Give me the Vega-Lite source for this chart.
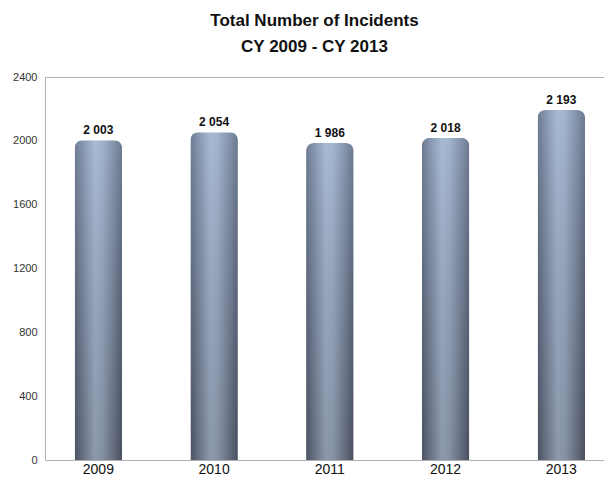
{
  "$schema": "https://vega.github.io/schema/vega-lite/v6.json",
  "autosize": "none",
  "width": 559,
  "height": 383,
  "padding": {"left": 45, "top": 77, "right": 0, "bottom": 21},
  "background": "white",
  "config": {
    "view": {"stroke": null},
    "font": "Liberation Sans",
    "locale": {"number": {"decimal": ".", "thousands": " ", "grouping": [3], "currency": ["", ""]}}
  },
  "title": {
    "text": ["Total Number of Incidents", "CY 2009 - CY 2013"],
    "font": "Liberation Sans",
    "fontSize": 17,
    "fontWeight": "bold",
    "color": "#111",
    "anchor": "middle",
    "dx": -10,
    "offset": 15,
    "lineHeight": 26
  },
  "data": {"values": [
    {"year": "2009", "incidents": 2003},
    {"year": "2010", "incidents": 2054},
    {"year": "2011", "incidents": 1986},
    {"year": "2012", "incidents": 2018},
    {"year": "2013", "incidents": 2193}
  ]},
  "encoding": {
    "x": {
      "field": "year", "type": "nominal", "title": null,
      "scale": {"paddingInner": 0.59, "paddingOuter": 0.21, "align": 0.61},
      "axis": {"labelAngle": 0, "labelFontSize": 14, "labelColor": "#111", "domainColor": "#b0b0b0", "ticks": false, "labelPadding": 2}
    },
    "y": {
      "field": "incidents", "type": "quantitative", "title": null,
      "scale": {"domain": [0, 2400], "nice": false},
      "axis": {
        "values": [0, 400, 800, 1200, 1600, 2000, 2400],
        "format": "d",
        "labelFontSize": 11,
        "labelColor": "#333",
        "domainColor": "#b0b0b0",
        "ticks": false,
        "labelPadding": 8,
        "grid": true,
        "gridColor": "#b0b0b0",
        "gridOpacity": {"condition": {"test": "datum.value === 2400", "value": 1}, "value": 0}
      }
    }
  },
  "layer": [
    {
      "mark": {
        "type": "bar",
        "cornerRadiusTopLeft": 8,
        "cornerRadiusTopRight": 8,
        "color": {
          "gradient": "linear", "x1": 0, "x2": 1, "y1": 0, "y2": 0,
          "stops": [
            {"offset": 0, "color": "#4f5767"},
            {"offset": 0.2, "color": "#7a869a"},
            {"offset": 0.42, "color": "#a7b5ca"},
            {"offset": 0.58, "color": "#9dabc0"},
            {"offset": 0.85, "color": "#6b7587"},
            {"offset": 1, "color": "#4c5363"}
          ]
        }
      }
    },
    {
      "mark": {
        "type": "bar",
        "cornerRadiusTopLeft": 8,
        "cornerRadiusTopRight": 8,
        "color": {
          "gradient": "linear", "x1": 0, "x2": 0, "y1": 0, "y2": 1,
          "stops": [
            {"offset": 0, "color": "rgba(170,195,230,0.35)"},
            {"offset": 1, "color": "rgba(60,65,80,0.25)"}
          ]
        }
      }
    },
    {
      "mark": {"type": "text", "dy": -10, "fontSize": 12, "fontWeight": "bold", "color": "#111"},
      "encoding": {"text": {"field": "incidents", "type": "quantitative", "format": ",d"}}
    }
  ]
}
